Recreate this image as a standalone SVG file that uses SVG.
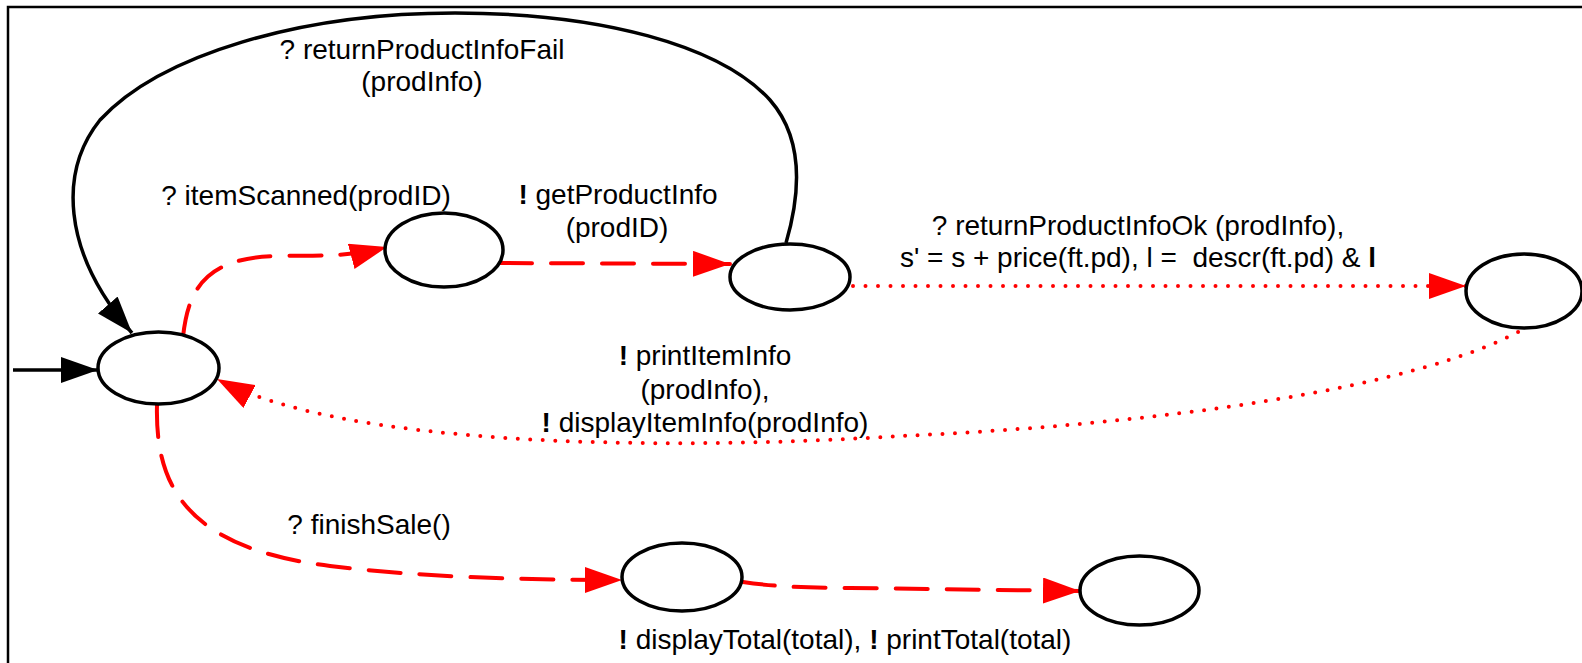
<svg xmlns="http://www.w3.org/2000/svg" width="1582" height="663" viewBox="0 0 1582 663">
  <style>
    .state { fill: #ffffff; stroke: #000000; stroke-width: 3.5; }
    .lbl { font-family: "Liberation Sans", Arial, sans-serif; font-size: 28px; fill: #000000; text-anchor: middle; }
    .b { font-weight: bold; }
    .solid { fill: none; stroke: #000000; stroke-width: 3.5; }
    .dashed { fill: none; stroke: #ff0000; stroke-width: 4; stroke-dasharray: 32 19; stroke-linecap: round; }
    .dotted { fill: none; stroke: #ff0000; stroke-width: 4; stroke-dasharray: 0 12.5; stroke-linecap: round; }
  </style>
  <defs>
    <marker id="head-black" markerUnits="userSpaceOnUse" viewBox="0 0 37 26" markerWidth="37" markerHeight="26" refX="37" refY="13" orient="auto">
      <path d="M0,0 L37,13 L0,26 z" fill="#000000"/>
    </marker>
    <marker id="head-red" markerUnits="userSpaceOnUse" viewBox="0 0 37 26" markerWidth="37" markerHeight="26" refX="37" refY="13" orient="auto">
      <path d="M0,0 L37,13 L0,26 z" fill="#ff0000"/>
    </marker>
  </defs>

  <rect width="1582" height="663" fill="#ffffff"/>
  <!-- outer frame (right and bottom sides fall outside the canvas) -->
  <rect x="8" y="7" width="1620" height="700" fill="none" stroke="#000000" stroke-width="2.5"/>

  <g id="connectors">
    <!-- initial transition -->
    <path class="solid" d="M13,370 L98,370" marker-end="url(#head-black)"/>
    <!-- returnProductInfoFail: back to idle -->
    <path class="solid" d="M786,243 C800,195 805,140 770,100 C720,45 600,13 455,13 C300,13 160,55 100,120 C60,170 60,250 132,333" marker-end="url(#head-black)"/>
    <!-- itemScanned -->
    <path class="dashed" d="M183,337 C188,290 205,258 275,256 C315,255 345,258 387,247" marker-end="url(#head-red)"/>
    <!-- getProductInfo -->
    <path class="dashed" d="M500,263 L730,264" marker-end="url(#head-red)"/>
    <!-- returnProductInfoOk -->
    <path class="dotted" d="M853,286 L1466,286" marker-end="url(#head-red)"/>
    <!-- printItemInfo / displayItemInfo -->
    <path class="dotted" d="M1529,326 C1420,390 1150,425 900,436 C650,452 340,445 217,379" marker-end="url(#head-red)"/>
    <!-- finishSale -->
    <path class="dashed" d="M157,405 C155,485 185,548 330,566 C420,577 520,580 622,580" marker-end="url(#head-red)"/>
    <!-- displayTotal / printTotal -->
    <path class="dashed" d="M743,582 C770,586 800,588 850,588 L1080,591" marker-end="url(#head-red)"/>
  </g>

  <g id="labels">
    <text class="lbl" x="422" y="59">? returnProductInfoFail</text>
    <text class="lbl" x="422" y="91">(prodInfo)</text>
    <text class="lbl" x="306" y="205">? itemScanned(prodID)</text>
    <text class="lbl" x="618" y="204"><tspan class="b">!</tspan> getProductInfo</text>
    <text class="lbl" x="617" y="237">(prodID)</text>
    <text class="lbl" x="1138" y="235">? returnProductInfoOk (prodInfo),</text>
    <text class="lbl" x="1138" y="267" xml:space="preserve">s' = s + price(ft.pd), l =  descr(ft.pd) &amp; <tspan class="b">l</tspan></text>
    <text class="lbl" x="705" y="365"><tspan class="b">!</tspan> printItemInfo</text>
    <text class="lbl" x="705" y="399">(prodInfo),</text>
    <text class="lbl" x="705" y="432"><tspan class="b">!</tspan> displayItemInfo(prodInfo)</text>
    <text class="lbl" x="369" y="534">? finishSale()</text>
    <text class="lbl" x="845" y="649"><tspan class="b">!</tspan> displayTotal(total), <tspan class="b">!</tspan> printTotal(total)</text>
  </g>

  <g id="idle"><ellipse class="state" cx="158.5" cy="368" rx="60.5" ry="36"/></g>
  <g id="scanned"><ellipse class="state" cx="444" cy="250" rx="59" ry="37"/></g>
  <g id="awaiting-info"><ellipse class="state" cx="790" cy="277" rx="60" ry="33"/></g>
  <g id="info-received"><ellipse class="state" cx="1524" cy="291" rx="58" ry="37"/></g>
  <g id="finishing"><ellipse class="state" cx="682" cy="577" rx="60" ry="34"/></g>
  <g id="done"><ellipse class="state" cx="1139.5" cy="590.5" rx="59.5" ry="34.5"/></g>
</svg>
